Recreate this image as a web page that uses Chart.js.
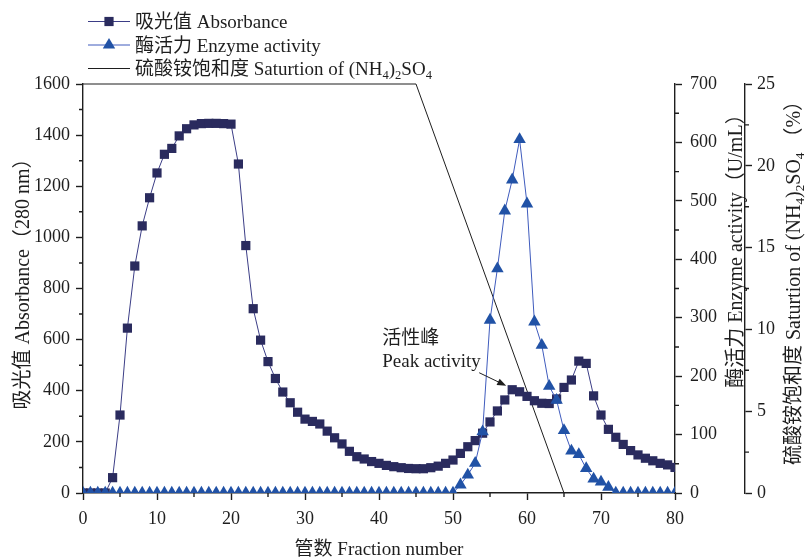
<!DOCTYPE html>
<html>
<head>
<meta charset="utf-8">
<script src="https://cdn.jsdelivr.net/npm/chart.js@4.4.1/dist/chart.umd.min.js"></script>
<style>
  html, body { margin: 0; padding: 0; background: #fff; }
  canvas { display: block; }
</style>
</head>
<body>
<canvas id="chart" width="807" height="558"></canvas>
<script>
// Fraction (tube) numbers
const fractions = [0,1,2,3,4,5,6,7,8,9,10,11,12,13,14,15,16,17,18,19,20,
  21,22,23,24,25,26,27,28,29,30,31,32,33,34,35,36,37,38,39,40,
  41,42,43,44,45,46,47,48,49,50,51,52,53,54,55,56,57,58,59,60,
  61,62,63,64,65,66,67,68,69,70,71,72,73,74,75,76,77,78,79,80];

// Absorbance at 280 nm for each fraction
const absorbance = [0,0,0,0,60,305,645,888,1045,1155,1252,
  1325,1348,1397,1425,1440,1445,1446,1446,1445,1443,
  1287,968,721,598,514,448,395,353,316,289,
  280,270,242,216,192,163,142,133,123,116,
  108,103,99,96,95,95,99,105,116,129,
  155,181,205,234,278,321,364,404,396,378,
  361,351,350,368,413,442,516,507,380,305,
  249,218,190,166,149,136,126,116,110,100];

// Enzyme activity (U/mL) for each fraction
const enzymeActivity = [0,0,0,0,0,0,0,0,0,0,0,
  0,0,0,0,0,0,0,0,0,0,
  0,0,0,0,0,0,0,0,0,0,
  0,0,0,0,0,0,0,0,0,0,
  0,0,0,0,0,0,0,0,0,0,
  14,31,51,105,296,384,483,536,605,495,
  293,253,183,159,107,72,66,42,24,19,
  10,0,0,0,0,0,0,0,0,0];

// Ammonium sulfate saturation gradient (%)
const saturationFractions = [0, 45, 65];
const saturation = [25, 25, 0];

// Axis ticks
const xTicks = [0,10,20,30,40,50,60,70,80];
const xMinorTicks = [5,15,25,35,45,55,65,75];
const absTicks = [0,200,400,600,800,1000,1200,1400,1600];
const absMinorTicks = [100,300,500,700,900,1100,1300,1500];
const enzTicks = [0,100,200,300,400,500,600,700];
const enzMinorTicks = [50,150,250,350,450,550,650];
const satTicks = [0,5,10,15,20,25];
const satMinorTicks = [2.5,7.5,12.5,17.5,22.5];

// Text
const seriesNames = ['吸光值 Absorbance', '酶活力 Enzyme activity'];
const satName = [{t:'硫酸铵饱和度 Saturtion of (NH'},{t:'4',sub:true},{t:')'},{t:'2',sub:true},{t:'SO'},{t:'4',sub:true}];
const xTitle = '管数 Fraction number';
const absTitle = '吸光值 Absorbance（280 nm）';
const enzTitle = '酶活力 Enzyme activity（U/mL）';
const satTitle = satName.concat([{t:' （%）'}]);
const peakLabel = ['活性峰', 'Peak activity'];
const peakFraction = 58;

const INK = '#1e1e1e';
const NAVY = '#2a2b5e';
const NAVY_LINE = '#3b3d86';
const BLUE = '#2152a6';
const BLUE_LINE = '#3f5bbd';
const FAMILY = '"Liberation Serif", "Times New Roman", "Noto Sans CJK SC", serif';
const fontOf = s => `${s}px ${FAMILY}`;

function richWidth(ctx, parts, size) {
  let w = 0;
  for (const p of parts) {
    ctx.font = fontOf(p.sub ? size * 0.66 : size);
    w += ctx.measureText(p.t).width;
  }
  return w;
}
function drawRich(ctx, parts, x, baseline, size) {
  let cx = x;
  ctx.textAlign = 'left';
  ctx.textBaseline = 'alphabetic';
  for (const p of parts) {
    const s = p.sub ? size * 0.66 : size;
    ctx.font = fontOf(s);
    ctx.fillText(p.t, cx, baseline + (p.sub ? size * 0.22 : 0));
    cx += ctx.measureText(p.t).width;
  }
}

function fixTicks(list) {
  return scale => { scale.ticks = list.map(v => ({ value: v })); };
}
const plainLabel = v => String(v);

const axisCommon = {
  border: { display: true, color: INK, width: 1.4 },
  grid: { drawOnChartArea: false, drawTicks: true, tickLength: 7, tickColor: INK, tickWidth: 1.4 }
};
const tickStyle = pad => ({ color: INK, font: { family: FAMILY, size: 18 }, padding: pad, callback: plainLabel });

// Minor tick marks and all drawn text (legend, axis titles, annotation)
const decorations = {
  id: 'decorations',
  afterDraw(chart) {
    const ctx = chart.ctx;
    const area = chart.chartArea;
    const sx = chart.scales.x, sy = chart.scales.y, s1 = chart.scales.y1, s2 = chart.scales.y2;
    ctx.save();

    // minor ticks
    ctx.strokeStyle = INK;
    ctx.lineWidth = 1.4;
    const minorLen = 4;
    ctx.beginPath();
    xMinorTicks.forEach(v => { const p = sx.getPixelForValue(v); ctx.moveTo(p, sx.top); ctx.lineTo(p, sx.top + minorLen); });
    absMinorTicks.forEach(v => { const p = sy.getPixelForValue(v); ctx.moveTo(sy.right, p); ctx.lineTo(sy.right - minorLen, p); });
    enzMinorTicks.forEach(v => { const p = s1.getPixelForValue(v); ctx.moveTo(s1.left, p); ctx.lineTo(s1.left + minorLen, p); });
    satMinorTicks.forEach(v => { const p = s2.getPixelForValue(v); ctx.moveTo(s2.left, p); ctx.lineTo(s2.left + minorLen, p); });
    ctx.stroke();

    ctx.fillStyle = INK;
    const size = 19;
    const titleSize = 20;

    // legend
    const lx0 = 88, lx1 = 130, tx = 135;
    const rows = [21.5, 45, 68.5];
    ctx.strokeStyle = NAVY_LINE; ctx.lineWidth = 1;
    ctx.beginPath(); ctx.moveTo(lx0, rows[0]); ctx.lineTo(lx1, rows[0]); ctx.stroke();
    ctx.fillStyle = NAVY;
    ctx.fillRect(109 - 4.6, rows[0] - 4.6, 9.2, 9.2);
    ctx.strokeStyle = BLUE_LINE;
    ctx.beginPath(); ctx.moveTo(lx0, rows[1]); ctx.lineTo(lx1, rows[1]); ctx.stroke();
    ctx.fillStyle = BLUE;
    ctx.beginPath();
    ctx.moveTo(109, rows[1] - 7); ctx.lineTo(109 + 6.2, rows[1] + 3.6); ctx.lineTo(109 - 6.2, rows[1] + 3.6);
    ctx.closePath(); ctx.fill();
    ctx.strokeStyle = INK;
    ctx.beginPath(); ctx.moveTo(lx0, rows[2]); ctx.lineTo(lx1, rows[2]); ctx.stroke();

    ctx.fillStyle = INK;
    drawRich(ctx, [{ t: seriesNames[0] }], tx, rows[0] + 6.5, size);
    drawRich(ctx, [{ t: seriesNames[1] }], tx, rows[1] + 6.5, size);
    drawRich(ctx, satName, tx, rows[2] + 6.5, size);

    // x-axis title
    const xw = richWidth(ctx, [{ t: xTitle }], size);
    drawRich(ctx, [{ t: xTitle }], (area.left + area.right) / 2 - xw / 2, 555, size);

    // rotated axis titles (read bottom to top)
    function vertical(parts, cx, cy) {
      const w = richWidth(ctx, parts, titleSize);
      ctx.save();
      ctx.translate(cx, cy);
      ctx.rotate(-Math.PI / 2);
      drawRich(ctx, parts, -w / 2, 7, titleSize);
      ctx.restore();
    }
    vertical([{ t: absTitle }], 22, 279);
    vertical([{ t: enzTitle }], 735, 246);
    vertical(satTitle, 793, 278);

    // peak annotation
    const px = sx.getPixelForValue(peakFraction);
    const py = sy.getPixelForValue(absorbance[fractions.indexOf(peakFraction)]);
    drawRich(ctx, [{ t: peakLabel[0] }], px - 130, py - 46, size);
    drawRich(ctx, [{ t: peakLabel[1] }], px - 130, py - 23, size);
    const tipX = px - 6, tipY = py - 4, tailX = px - 33, tailY = py - 17;
    const ang = Math.atan2(tipY - tailY, tipX - tailX);
    ctx.strokeStyle = INK; ctx.lineWidth = 1;
    ctx.beginPath(); ctx.moveTo(tailX, tailY); ctx.lineTo(tipX - 6 * Math.cos(ang), tipY - 6 * Math.sin(ang)); ctx.stroke();
    ctx.beginPath();
    ctx.moveTo(tipX, tipY);
    ctx.lineTo(tipX - 9 * Math.cos(ang) + 3.5 * Math.sin(ang), tipY - 9 * Math.sin(ang) - 3.5 * Math.cos(ang));
    ctx.lineTo(tipX - 9 * Math.cos(ang) - 3.5 * Math.sin(ang), tipY - 9 * Math.sin(ang) + 3.5 * Math.cos(ang));
    ctx.closePath(); ctx.fill();

    ctx.restore();
  }
};

new Chart(document.getElementById('chart'), {
  type: 'line',
  data: {
    datasets: [
      {
        label: seriesNames[1],
        data: fractions.map((f, i) => ({ x: f, y: enzymeActivity[i] })),
        yAxisID: 'y1',
        order: 0,
        borderColor: BLUE_LINE,
        borderWidth: 1,
        backgroundColor: BLUE,
        pointStyle: 'triangle',
        pointRadius: 7.2,
        pointBorderWidth: 0,
        pointBackgroundColor: BLUE,
        tension: 0,
        clip: 0
      },
      {
        label: seriesNames[0],
        data: fractions.map((f, i) => ({ x: f, y: absorbance[i] })),
        yAxisID: 'y',
        order: 1,
        borderColor: NAVY_LINE,
        borderWidth: 1,
        backgroundColor: NAVY,
        pointStyle: 'rect',
        pointRadius: 6.5,
        pointBorderWidth: 0,
        pointBackgroundColor: NAVY,
        tension: 0,
        clip: 0
      },
      {
        label: 'saturation',
        data: saturationFractions.map((f, i) => ({ x: f, y: saturation[i] })),
        yAxisID: 'y2',
        order: 2,
        borderColor: INK,
        borderWidth: 1,
        pointRadius: 0,
        tension: 0,
        clip: 2
      }
    ]
  },
  options: {
    responsive: false,
    animation: false,
    events: [],
    layout: { padding: { top: 84, left: 0, right: 0, bottom: 0 } },
    plugins: { legend: { display: false }, tooltip: { enabled: false } },
    scales: {
      x: Object.assign({}, axisCommon, {
        type: 'linear', position: 'bottom', min: 0, max: 80,
        ticks: tickStyle(8),
        afterBuildTicks: fixTicks(xTicks),
        afterFit: s => { s.height = 65; }
      }),
      y: Object.assign({}, axisCommon, {
        type: 'linear', position: 'left', min: 0, max: 1600,
        ticks: tickStyle(6),
        afterBuildTicks: fixTicks(absTicks),
        afterFit: s => { s.width = 83; }
      }),
      y1: Object.assign({}, axisCommon, {
        type: 'linear', position: 'right', min: 0, max: 700, weight: 1,
        ticks: tickStyle(8),
        afterBuildTicks: fixTicks(enzTicks),
        afterFit: s => { s.width = 70; }
      }),
      y2: Object.assign({}, axisCommon, {
        type: 'linear', position: 'right', min: 0, max: 25, weight: 2,
        ticks: tickStyle(5),
        afterBuildTicks: fixTicks(satTicks),
        afterFit: s => { s.width = 62; }
      })
    }
  },
  plugins: [decorations]
});
</script>
</body>
</html>
